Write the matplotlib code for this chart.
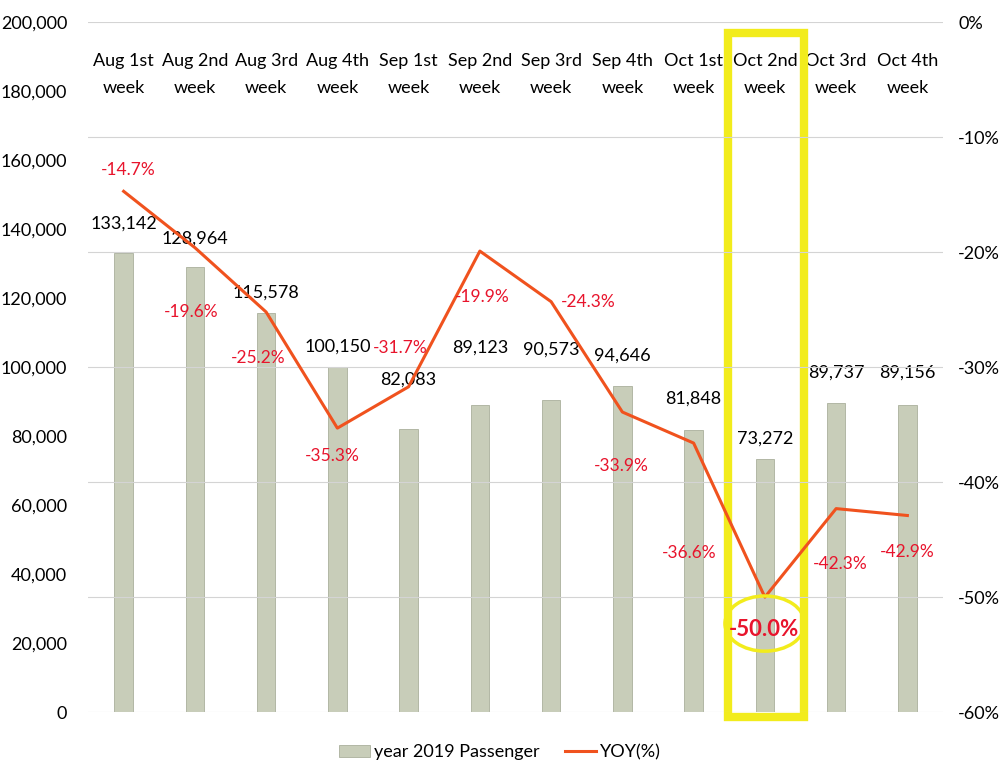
import matplotlib.pyplot as plt
from matplotlib.patches import Rectangle, Ellipse
from matplotlib.ticker import FuncFormatter

plt.rcParams['font.family'] = ['Lato', 'DejaVu Sans']

# Data
weeks = ["Aug 1st\nweek", "Aug 2nd\nweek", "Aug 3rd\nweek", "Aug 4th\nweek",
         "Sep 1st\nweek", "Sep 2nd\nweek", "Sep 3rd\nweek", "Sep 4th\nweek",
         "Oct 1st\nweek", "Oct 2nd\nweek", "Oct 3rd\nweek", "Oct 4th\nweek"]
passengers = [133142, 128964, 115578, 100150, 82083, 89123,
              90573, 94646, 81848, 73272, 89737, 89156]
yoy = [-14.7, -19.6, -25.2, -35.3, -31.7, -19.9,
       -24.3, -33.9, -36.6, -50.0, -42.3, -42.9]

# label offsets in points (x, y)
bar_offsets = [15, 15, 9, 9, 30, 35, 30, 16, 17, 9, 16, 17]
yoy_offsets = [(3, 15), (-3, -46), (-6, -33), (-4, -20), (-6, 28), (2, -33),
               (27, 0), (-1, -39), (-3, -79), (-1, -23), (3, -40), (0, -26)]

red = '#e8142c'
orange = '#f0521e'

fig = plt.figure(figsize=(10, 7.69), dpi=100)
ax = fig.add_axes([0.088, 0.074, 0.855, 0.897])
ax2 = ax.twinx()

x = range(len(weeks))
bars = ax.bar(x, passengers, width=0.26, color='#c8cdb9', edgecolor='#aab09c',
              linewidth=0.6, label='year 2019 Passenger')
ax.set_ylim(0, 200000)
ax.set_xlim(-0.5, len(weeks) - 0.5)
ax.set_yticks(range(0, 200001, 20000))
ax.yaxis.set_major_formatter(FuncFormatter(lambda v, p: f'{int(v):,}'))
ax.tick_params(axis='y', length=0, labelsize=13, pad=15)
ax.set_xticks(list(x))
ax.set_xticklabels(weeks, fontsize=13, linespacing=1.85)
ax.tick_params(axis='x', length=0, bottom=False, labelbottom=False,
               top=True, labeltop=True, pad=-53)

for i, v in enumerate(passengers):
    ax.annotate(f'{v:,}', (i, v), xytext=(0, bar_offsets[i]), textcoords='offset points',
                ha='center', va='bottom', fontsize=13)

line, = ax2.plot(x, yoy, color=orange, linewidth=2.2, label='YOY(%)')
ax2.set_ylim(-60, 0)
ax2.set_yticks(range(-60, 1, 10))
ax2.yaxis.set_major_formatter(FuncFormatter(lambda v, p: f'{int(v)}%'))
ax2.tick_params(axis='y', length=0, labelsize=13, pad=11)
ax2.grid(True, axis='y', color='#d4d4d4', linewidth=0.8)

for i, v in enumerate(yoy):
    big = v == min(yoy)
    ax2.annotate(f'{v:.1f}%', (i, v), xytext=yoy_offsets[i], textcoords='offset points',
                 ha='center', va='center', color=red,
                 fontsize=16 if big else 12.5, fontweight='bold' if big else 'normal')

for a in (ax, ax2):
    for s in a.spines.values():
        s.set_visible(False)
ax.set_axisbelow(True)

# highlight of Oct 2nd week
hi = yoy.index(min(yoy))
ax.add_patch(Rectangle((hi - 0.52, -1500), 1.07, 198500, fill=False,
                       edgecolor='#f2ec1c', linewidth=6, clip_on=False, zorder=5))
ax2.add_patch(Ellipse((hi, -52.3), 1.12, 4.8, fill=False, edgecolor='#f2ec1c',
                      linewidth=2.5, clip_on=False, zorder=5))

fig.legend([bars, line], ['year 2019 Passenger', 'YOY(%)'], loc='center',
           bbox_to_anchor=(0.5, 0.022), ncol=2, frameon=False, fontsize=13,
           handlelength=1.7, handletextpad=0.25, columnspacing=1.4)

fig.savefig('out.png', dpi=100)
